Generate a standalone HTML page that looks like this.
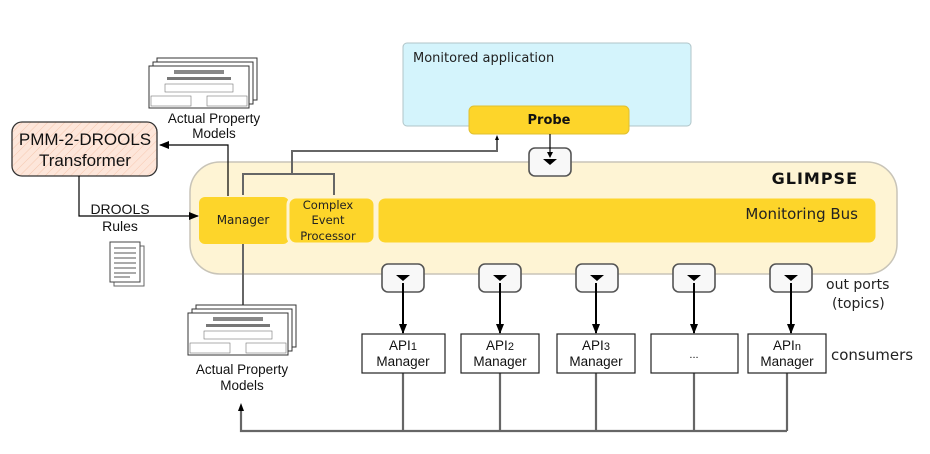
<!DOCTYPE html>
<html><head><meta charset="utf-8"><style>
body{margin:0;background:#fff}
svg{display:block}
text{font-family:"DejaVu Sans","Liberation Sans",sans-serif}
.a,.a text{font-family:"Liberation Sans",sans-serif}
</style></head><body>
<svg width="930" height="454" viewBox="0 0 930 454" xmlns="http://www.w3.org/2000/svg">
<defs>
<pattern id="h" width="6" height="6" patternUnits="userSpaceOnUse" patternTransform="rotate(45)">
<rect width="6" height="6" fill="#fde6da"/><line x1="0" y1="0" x2="0" y2="6" stroke="#f6c8b0" stroke-width="1"/>
</pattern>
<marker id="ar" markerWidth="10" markerHeight="8" refX="9" refY="4" orient="auto" markerUnits="userSpaceOnUse"><path d="M0,0 L10,4 L0,8z" fill="#000"/></marker>
<marker id="as" markerWidth="6" markerHeight="6" refX="5" refY="3" orient="auto" markerUnits="userSpaceOnUse"><path d="M0,0 L6,3 L0,6z" fill="#000"/></marker>
<g id="doc">
<rect x="8" y="0" width="100" height="42" fill="#fff" stroke="#333"/>
<rect x="4" y="4" width="100" height="42" fill="#fff" stroke="#333"/>
<rect x="0" y="8" width="100" height="42" fill="#fff" stroke="#333"/>
<rect x="25" y="12" width="50" height="4" fill="#888"/>
<rect x="18" y="19" width="64" height="3" fill="#777"/>
<rect x="16" y="26" width="68" height="8" fill="#fff" stroke="#777" stroke-width="0.6"/>
<rect x="2" y="38" width="40" height="10" fill="#fff" stroke="#777" stroke-width="0.6"/>
<rect x="58" y="38" width="40" height="10" fill="#fff" stroke="#777" stroke-width="0.6"/>
</g>
<g id="port"><rect x="-21" y="0" width="42" height="28" rx="6" fill="#f8f8f8" stroke="#555" stroke-width="1.6"/><path d="M-7,11 L7,11 L0,17z" fill="#000"/></g>
</defs>

<rect x="403" y="43" width="288" height="83" rx="4" fill="#d4f4fc" stroke="#b0c4c8"/>
<text x="413" y="62" font-size="13" fill="#222">Monitored application</text>

<rect x="190" y="162" width="707" height="112" rx="30" fill="#fef4d4" stroke="#c8c4b8" stroke-width="1.5"/>
<text x="858" y="184" font-size="16" font-weight="bold" text-anchor="end" fill="#111" letter-spacing="1">GLIMPSE</text>
<rect x="199" y="197" width="90" height="47" rx="6" fill="#fdd52a"/>
<rect x="288" y="197" width="87" height="47" rx="8" fill="#fdd52a" stroke="#fef4d4" stroke-width="3"/>
<rect x="377" y="197" width="500" height="47" rx="8" fill="#fdd52a" stroke="#fef4d4" stroke-width="3"/>
<text x="243" y="224" font-size="12" text-anchor="middle" fill="#222">Manager</text>
<text x="328" y="209" font-size="11.5" text-anchor="middle" fill="#222">Complex</text>
<text x="328" y="224" font-size="11.5" text-anchor="middle" fill="#222">Event</text>
<text x="328" y="240" font-size="11.5" text-anchor="middle" fill="#222">Processor</text>
<text x="858" y="219" font-size="15" text-anchor="end" fill="#222">Monitoring Bus</text>

<g stroke="#666" stroke-width="2" fill="none">
<polyline points="243,195 243,174 334,174 334,195"/>
<polyline points="292,174 292,151 497,151 497,138"/>
<line x1="243" y1="244" x2="243" y2="305"/>
</g>
<path d="M495,140 L497,135 L499,140z" fill="#000"/>

<rect x="469" y="106" width="160" height="28" rx="5" fill="#fdd52a" stroke="#e0c030"/>
<text x="549" y="124" font-size="13" font-weight="bold" text-anchor="middle" fill="#111">Probe</text>
<use href="#port" x="550" y="148"/>
<line x1="550" y1="134" x2="550" y2="157" stroke="#000" stroke-width="1.2" marker-end="url(#as)"/>

<rect x="12" y="122" width="145" height="54" rx="10" fill="url(#h)" stroke="#333" stroke-width="1.3"/>
<text class="a" x="85" y="145" font-size="17" text-anchor="middle" fill="#111">PMM-2-DROOLS</text>
<text class="a" x="85" y="166" font-size="17" text-anchor="middle" fill="#111">Transformer</text>
<polyline points="228,196 228,145 160,145" fill="none" stroke="#000" stroke-width="1.2" marker-end="url(#ar)"/>
<polyline points="79,176 79,216 198,216" fill="none" stroke="#000" stroke-width="1.2" marker-end="url(#ar)"/>
<text class="a" x="120" y="214" font-size="14" text-anchor="middle" fill="#111">DROOLS</text>
<text class="a" x="120" y="231" font-size="14" text-anchor="middle" fill="#111">Rules</text>

<rect x="114" y="246" width="30" height="40" fill="#fff" stroke="#666"/>
<rect x="110" y="242" width="30" height="40" fill="#fff" stroke="#444"/>
<g stroke="#555" stroke-width="1"><line x1="114" y1="248" x2="136" y2="248"/><line x1="114" y1="253" x2="136" y2="253"/><line x1="114" y1="258" x2="136" y2="258"/><line x1="114" y1="263" x2="136" y2="263"/><line x1="114" y1="268" x2="136" y2="268"/><line x1="114" y1="273" x2="136" y2="273"/><line x1="114" y1="277" x2="130" y2="277"/></g>

<use href="#doc" x="149" y="58"/>
<text class="a" x="214" y="123" font-size="13.5" text-anchor="middle" fill="#111">Actual Property</text>
<text class="a" x="214" y="138" font-size="13.5" text-anchor="middle" fill="#111">Models</text>
<use href="#doc" x="188" y="305"/>
<text class="a" x="242" y="374" font-size="13.5" text-anchor="middle" fill="#111">Actual Property</text>
<text class="a" x="242" y="390" font-size="13.5" text-anchor="middle" fill="#111">Models</text>

<g stroke="#666" stroke-width="2.2" fill="none">
<line x1="403" y1="373" x2="403" y2="431"/><line x1="500" y1="373" x2="500" y2="431"/><line x1="596" y1="373" x2="596" y2="431"/><line x1="694" y1="373" x2="694" y2="431"/><line x1="787" y1="373" x2="787" y2="431"/>
<polyline points="787,431 241,431 241,410"/>
</g>
<path d="M238,411 L241,403 L244,411z" fill="#000"/>

<use href="#port" x="403" y="264"/><use href="#port" x="500" y="264"/><use href="#port" x="597" y="264"/><use href="#port" x="694" y="264"/><use href="#port" x="791" y="264"/>
<g stroke="#000" stroke-width="2">
<line x1="403" y1="283" x2="403" y2="333" marker-end="url(#ar)"/>
<line x1="500" y1="283" x2="500" y2="333" marker-end="url(#ar)"/>
<line x1="596" y1="283" x2="596" y2="333" marker-end="url(#ar)"/>
<line x1="694" y1="283" x2="694" y2="333" marker-end="url(#ar)"/>
<line x1="791" y1="283" x2="791" y2="333" marker-end="url(#ar)"/>
</g>
<g fill="#fff" stroke="#222" stroke-width="1.2">
<rect x="362" y="334" width="83" height="39"/><rect x="461" y="334" width="78" height="39"/><rect x="557" y="334" width="78" height="39"/><rect x="651" y="334" width="87" height="39"/><rect x="748" y="334" width="78" height="39"/>
</g>
<g class="a" font-size="13.5" text-anchor="middle" fill="#111">
<text x="403" y="350">API<tspan font-size="11">1</tspan></text><text x="403" y="366">Manager</text>
<text x="500" y="350">API<tspan font-size="11">2</tspan></text><text x="500" y="366">Manager</text>
<text x="596" y="350">API<tspan font-size="11">3</tspan></text><text x="596" y="366">Manager</text>
<text x="694" y="358" font-size="11">...</text>
<text x="787" y="350">API<tspan font-size="11">n</tspan></text><text x="787" y="366">Manager</text>
</g>
<text x="826" y="289" font-size="14" fill="#222">out ports</text>
<text x="832" y="308" font-size="14" fill="#222">(topics)</text>
<text x="831" y="360" font-size="15" fill="#222">consumers</text>
</svg>
</body></html>
